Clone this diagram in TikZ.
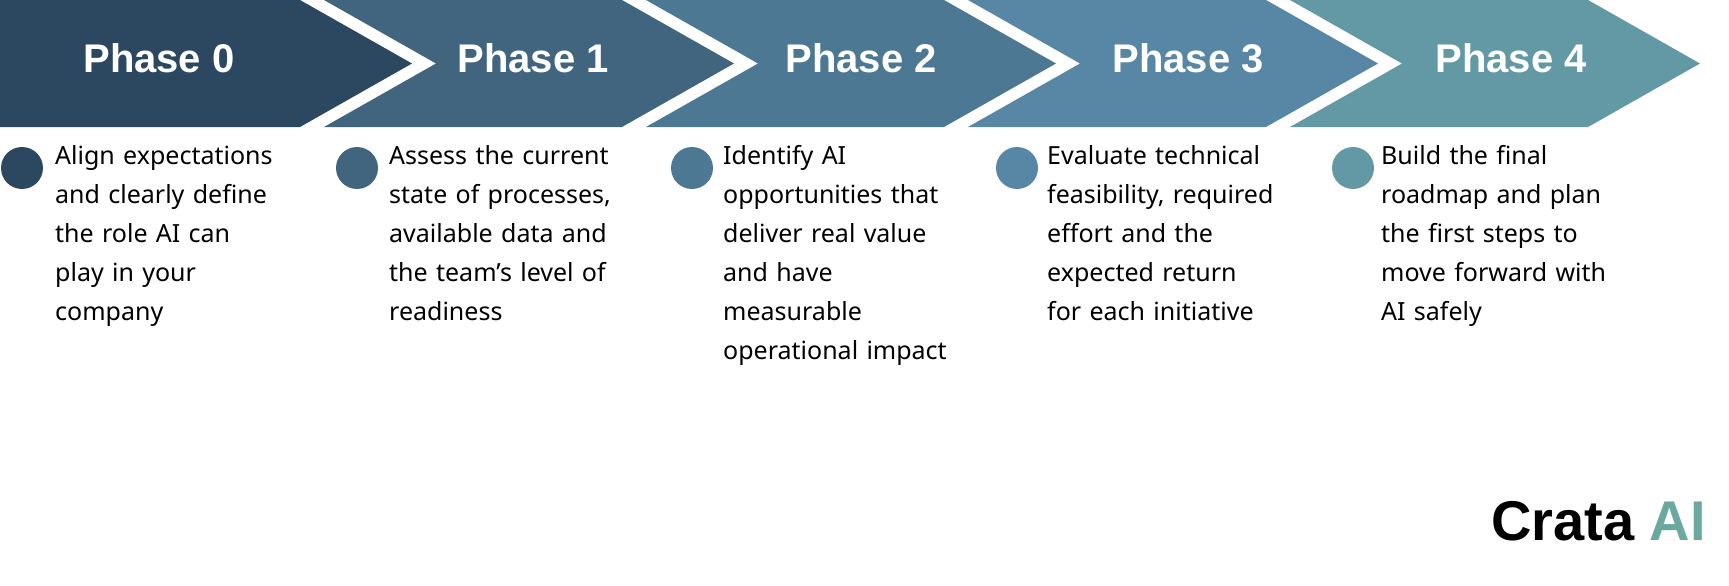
\documentclass[tikz,border=0pt]{standalone}
\usepackage{fontspec}
\setmainfont{Noto Sans}
\newfontfamily\headfont{Roboto}[UprightFont=*]
\newfontfamily\titlefont{Liberation Sans}
\definecolor{cA}{HTML}{2C4760}
\definecolor{cB}{HTML}{42657F}
\definecolor{cC}{HTML}{4C7893}
\definecolor{cD}{HTML}{5787A5}
\definecolor{cE}{HTML}{6399A5}
\definecolor{logo}{HTML}{6BA8A0}
\begin{document}
\begin{tikzpicture}[x=1pt,y=-1pt,
  ttl/.style={text=white,font=\titlefont\bfseries\fontsize{40}{44}\selectfont},
  body/.style={anchor=north west,align=left,text width=260pt,inner sep=0pt,
    font=\fontsize{25}{39}\selectfont,text=black}]
\useasboundingbox (0,0) rectangle (1729,586);
\def\d{112}\def\h{127}\def\g{24}
% chevrons
\fill[cA] (0,0) -- (412-\d,0) -- (412,63.5) -- (412-\d,\h) -- (0,\h) -- cycle;
\foreach \i/\c in {1/cB,2/cC,3/cD,4/cE}{
  \pgfmathsetmacro\tp{412+322*(\i-1)}
  \pgfmathsetmacro\tn{412+322*\i}
  \fill[\c] (\tp+\g-\d,0) -- (\tn-\d,0) -- (\tn,63.5) -- (\tn-\d,\h) -- (\tp+\g-\d,\h) -- (\tp+\g,63.5) -- cycle;
}
\node[ttl] (t0) at (159,58) {Phase 0};
\node[ttl] (t1) at (533,58) {Phase 1};
\node[ttl] (t2) at (861,58) {Phase 2};
\node[ttl] (t3) at (1188,58) {Phase 3};
\node[ttl] (t4) at (1511,58) {Phase 4};
% bullets
\fill[cA] (22,168) circle (21);
\fill[cB] (357,168) circle (21);
\fill[cC] (692,168) circle (21);
\fill[cD] (1017,168) circle (21);
\fill[cE] (1353,168) circle (21);
\node[body] (b0) at (55,145) {Align expectations\\and clearly define\\the role AI can\\play in your\\company};
\node[body] (b1) at (389,145) {Assess the current\\state of processes,\\available data and\\the team’s level of\\readiness};
\node[body] (b2) at (723,145) {Identify AI\\opportunities that\\deliver real value\\and have\\measurable\\operational impact};
\node[body] (b3) at (1047,145) {Evaluate technical\\feasibility, required\\effort and the\\expected return\\for each initiative};
\node[body] (b4) at (1381,145) {Build the final\\roadmap and plan\\the first steps to\\move forward with\\AI safely};
\node[anchor=south east,inner sep=0pt,font=\titlefont\bfseries\fontsize{56}{60}\selectfont] (logo) at (1706,541) {Crata \textcolor{logo}{AI}};
\end{tikzpicture}
\end{document}
